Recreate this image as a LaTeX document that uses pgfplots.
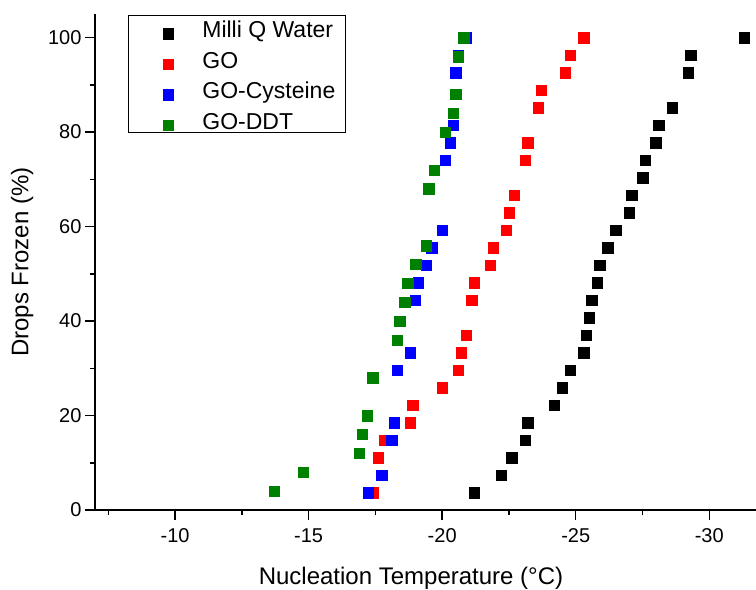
\documentclass[border=0pt]{standalone}
\usepackage{fontspec}
\setmainfont{Liberation Sans}
\usepackage{pgfplots}
\pgfplotsset{compat=1.18}
\definecolor{ogreen}{RGB}{0,128,0}

\begin{document}
\begin{tikzpicture}
\useasboundingbox (-95bp,-80bp) rectangle (661bp,510bp);
\begin{axis}[
  at={(0bp,0bp)}, anchor=south west,
  scale only axis, width=661bp, height=496bp,
  x dir=reverse,
  xmin=-31.75, xmax=-7, ymin=0, ymax=105,
  axis x line*=bottom, axis y line*=left,
  axis line style={line width=1.5bp},
  tick align=outside,
  major tick length=10bp, minor tick length=5bp,
  every tick/.style={black, line width=1.5bp},
  xtick={-10,-15,-20,-25,-30},
  xticklabels={-10,-15,-20,-25,-30},
  minor xtick={-7.5,-12.5,-17.5,-22.5,-27.5},
  ytick={0,20,40,60,80,100},
  yticklabels={0,20,40,60,80,100},
  minor ytick={10,30,50,70,90},
  tick label style={font=\fontsize{20bp}{24bp}\selectfont},
  xticklabel style={anchor=north, yshift=-5bp},
  xlabel={Nucleation Temperature (°C)},
  ylabel={Drops Frozen (\%)},
  label style={font=\fontsize{24bp}{28bp}\selectfont},
  xlabel style={at={(axis description cs:0.478,-0.151)}, anchor=base},
  ylabel style={at={(axis description cs:-0.11,0.5)}, anchor=center},
  legend style={at={(axis description cs:0.0499,0.998)}, anchor=north west,
    draw=black, line width=0.8bp, inner xsep=10bp, inner ysep=1.5bp,
    font=\fontsize{23bp}{27bp}\selectfont, row sep=8.7bp,
    nodes={inner xsep=0bp, inner ysep=0bp, text height=20.7bp, text depth=0bp,
      anchor=base west}},
  legend cell align=left,
  legend image code/.code={
    \path[draw=none, fill=none] (0bp,0.35em) -- (64bp,0.35em);
    \draw[#1] plot coordinates {(30bp,0.4em)};
  },
  every axis plot/.append style={only marks, mark=square*, mark size=5.2bp},
]
% Milli Q Water
\addplot[black, mark options={fill=black, draw=black, line width=0.3bp}] coordinates {
  (-21.2,3.70) (-22.2,7.41) (-22.6,11.11) (-23.1,14.81) (-23.2,18.52)
  (-24.2,22.22) (-24.5,25.93) (-24.8,29.63) (-25.3,33.33) (-25.4,37.04)
  (-25.5,40.74) (-25.6,44.44) (-25.8,48.15) (-25.9,51.85) (-26.2,55.56)
  (-26.5,59.26) (-27.0,62.96) (-27.1,66.67) (-27.5,70.37) (-27.6,74.07)
  (-28.0,77.78) (-28.1,81.48) (-28.6,85.19) (-29.2,92.59) (-29.3,96.30)
  (-31.3,100)
};
% GO
\addplot[red, mark options={fill=red, draw=red, line width=0.3bp}] coordinates {
  (-17.4,3.70) (-17.6,11.11) (-17.85,14.81) (-18.8,18.52) (-18.9,22.22)
  (-20.0,25.93) (-20.6,29.63) (-20.7,33.33) (-20.9,37.04) (-21.1,44.44)
  (-21.2,48.15) (-21.8,51.85) (-21.9,55.56) (-22.4,59.26) (-22.5,62.96)
  (-22.7,66.67) (-23.1,74.07) (-23.2,77.78) (-23.6,85.19) (-23.7,88.89)
  (-24.6,92.59) (-24.8,96.30) (-25.3,100)
};
% GO-Cysteine
\addplot[blue, mark options={fill=blue, draw=blue, line width=0.3bp}] coordinates {
  (-17.23,3.70) (-17.74,7.41) (-18.11,14.81) (-18.21,18.52) (-18.31,29.63)
  (-18.81,33.33) (-18.99,44.44) (-19.11,48.15) (-19.41,51.85) (-19.61,55.56)
  (-20.0,59.26) (-20.1,74.07) (-20.3,77.78) (-20.4,81.48) (-20.5,92.59)
  (-20.59,96.30) (-20.9,100)
};
% GO-DDT
\addplot[ogreen, mark options={fill=ogreen, draw=ogreen, line width=0.3bp}] coordinates {
  (-13.7,4) (-14.8,8) (-16.89,12) (-17.0,16) (-17.19,20) (-17.39,28)
  (-18.31,36) (-18.41,40) (-18.6,44) (-18.71,48) (-19.01,52) (-19.41,56)
  (-19.5,68) (-19.7,72) (-20.1,80) (-20.4,84) (-20.5,88) (-20.6,96)
  (-20.81,100)
};
\legend{Milli Q Water, GO, GO-Cysteine, GO-DDT}
\end{axis}
\end{tikzpicture}
\end{document}
